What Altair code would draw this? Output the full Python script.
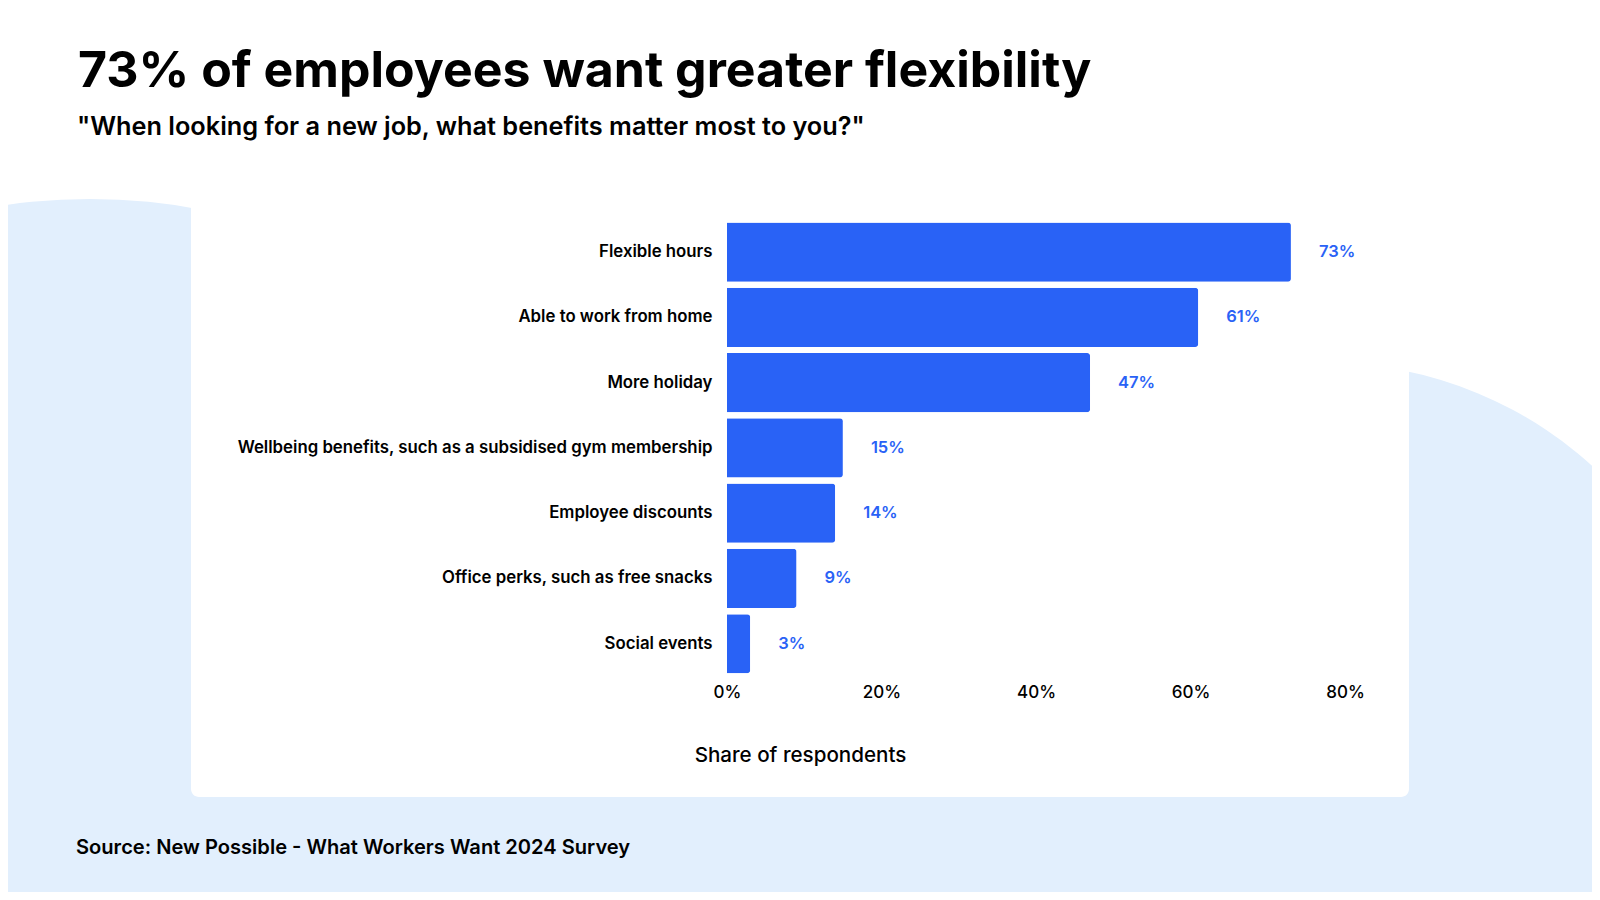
import altair as alt
import pandas as pd

# ---- data ----
categories = [
    "Flexible hours",
    "Able to work from home",
    "More holiday",
    "Wellbeing benefits, such as a subsidised gym membership",
    "Employee discounts",
    "Office perks, such as free snacks",
    "Social events",
]
shares = [0.73, 0.61, 0.47, 0.15, 0.14, 0.09, 0.03]
x_ticks = [0, 0.2, 0.4, 0.6, 0.8]

title_text = "73% of employees want greater flexibility"
subtitle_text = '"When looking for a new job, what benefits matter most to you?"'
source_text = "Source: New Possible - What Workers Want 2024 Survey"
x_title = "Share of respondents"

df = pd.DataFrame({"benefit": categories, "share": shares})

# ---- style ----
FONT = "Inter"
BAR = "#2962F6"
PALE = "#E2EFFD"
INK = "#000000"

W, H = 618, 457
PAD = {"left": 719, "top": 211.4, "right": 247, "bottom": 215.6}

one = alt.Data(values=[{}])


def circle(cx, cy, r):
    return alt.Chart(one).mark_arc(
        color=PALE, theta=0, theta2=6.2832, radius=r
    ).encode(x=alt.value(cx), y=alt.value(cy))


def text(t, x, y, size, weight, color=INK, align="left"):
    return alt.Chart(one).mark_text(
        align=align, baseline="alphabetic", font=FONT, fontSize=size,
        fontWeight=weight, color=color
    ).encode(x=alt.value(x), y=alt.value(y), text=alt.value(t))


left_blob = circle(-637, 574.6, 595)
right_blob = circle(599, 539.6, 396)
bottom_band = alt.Chart(one).mark_rect(color=PALE).encode(
    x=alt.value(-727), x2=alt.value(873), y=alt.value(480.6), y2=alt.value(690)
)
card = alt.Chart(one).mark_rect(color="white", cornerRadius=8).encode(
    x=alt.value(-536), x2=alt.value(682), y=alt.value(-19.4), y2=alt.value(577.6)
)

base = alt.Chart(df).encode(
    y=alt.Y(
        "benefit:N", sort=categories,
        scale=alt.Scale(paddingInner=0.093, paddingOuter=0.0465),
        axis=alt.Axis(
            title=None, domain=False, ticks=False, labelPadding=15,
            labelFont=FONT, labelFontSize=16.8, labelFontWeight=600,
            labelColor=INK, labelLimit=0, zindex=2,
        ),
    ),
)

bars = base.mark_bar(color=BAR, cornerRadiusEnd=3).encode(
    x=alt.X(
        "share:Q",
        scale=alt.Scale(domain=[0, 0.8], nice=False),
        axis=alt.Axis(
            format=".0%", values=x_ticks, grid=False, domain=False,
            ticks=False, tickSize=0, labelFlush=False, labelPadding=16.5,
            labelBaseline="middle", labelFont=FONT, labelFontSize=17,
            labelFontWeight=500, labelColor=INK, zindex=2,
            title=x_title, titleX=73, titleY=79.5, titleAlign="center",
            titleBaseline="middle", titleFont=FONT, titleFontSize=20.6,
            titleFontWeight=500, titleColor=INK,
        ),
    )
)

values_text = base.mark_text(
    align="left", baseline="middle", dx=28, font=FONT, fontSize=16.5,
    fontWeight=600, color=BAR
).encode(x="share:Q", text=alt.Text("share:Q", format=".0%"))

chart = alt.layer(
    left_blob, right_blob, bottom_band, card,
    bars, values_text,
    text(title_text, -649, -132.6, 50, 700),
    text(subtitle_text, -650, -84.6, 25.3, 600),
    text(source_text, -651, 634.1, 20.1, 600),
).properties(
    width=W, height=H,
    autosize=alt.AutoSizeParams(type="none"),
    padding=PAD,
).configure(background="white").configure_view(strokeWidth=0)

chart.save("out.html", embed_options={"renderer": "svg", "actions": False})
